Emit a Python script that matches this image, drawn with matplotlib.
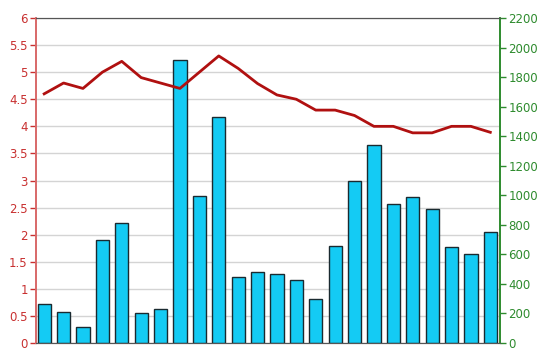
import matplotlib
matplotlib.use("Agg")
import matplotlib.pyplot as plt
import numpy as np

# values
bar_values = [264, 213, 106, 697, 814, 205, 231, 1914, 997, 1533, 444, 480,
              469, 425, 301, 656, 1096, 1342, 940, 986, 905, 652, 602, 751]
line_values = [4.6, 4.8, 4.7, 5.0, 5.2, 4.9, 4.8, 4.7, 5.0, 5.3, 5.07, 4.79,
               4.58, 4.5, 4.3, 4.3, 4.2, 4.0, 4.0, 3.88, 3.88, 4.0, 4.0, 3.89]
left_ticks = [0, 0.5, 1, 1.5, 2, 2.5, 3, 3.5, 4, 4.5, 5, 5.5, 6]
left_labels = ["0", "0.5", "1", "1.5", "2", "2.5", "3", "3.5", "4", "4.5", "5", "5.5", "6"]
right_ticks = [0, 200, 400, 600, 800, 1000, 1200, 1400, 1600, 1800, 2000, 2200]

red = "#c83030"
red_spine = "#d86868"
green = "#2e8b2e"

plt.rcParams['font.family'] = ['DejaVu Sans']

fig = plt.figure(figsize=(5.5, 3.64), dpi=100)
ax = fig.add_axes([0.0655, 0.0577, 0.8436, 0.8928])
x = np.arange(len(bar_values))

ax.set_ylim(0, 6)
ax.set_xlim(-0.42, len(bar_values) - 0.5)
ax.set_yticks(left_ticks)
ax.set_yticklabels(left_labels)
ax.yaxis.grid(True, color="#d4d4d4", linewidth=1.0)
ax.set_axisbelow(True)
ax.set_xticks([])
ax.tick_params(axis='y', colors=red, direction='out', length=4, width=1, labelsize=8.5, pad=2)

ax2 = ax.twinx()
ax2.bar(x, bar_values, width=0.68, color="#14cbf4", edgecolor="#1a2a30", linewidth=1.0, zorder=2)
ax2.plot(x, line_values, color="#b01010", linewidth=2.0, transform=ax.transData, zorder=3)
ax2.set_ylim(0, 2200)
ax2.set_yticks(right_ticks)
ax2.tick_params(axis='y', colors=green, direction='out', length=4, width=1, labelsize=8.5, pad=2)

for a in (ax, ax2):
    a.spines['left'].set_color(red_spine)
    a.spines['right'].set_color(green)
    a.spines['top'].set_color("#555555")
    a.spines['bottom'].set_color("#555555")
    a.spines['left'].set_linewidth(1.2)
    a.spines['right'].set_linewidth(1.2)

fig.savefig("out.png", dpi=100)
